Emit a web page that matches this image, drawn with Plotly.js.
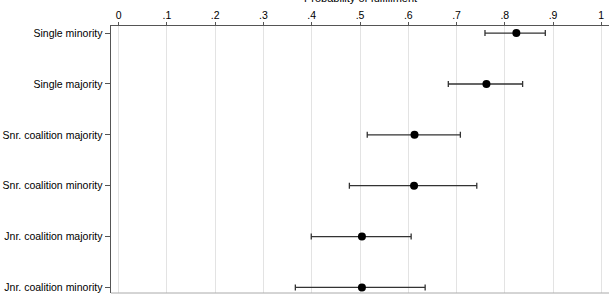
<!DOCTYPE html>
<html>
<head>
<meta charset="utf-8">
<script src="https://cdn.plot.ly/plotly-3.0.1.min.js"></script>
<style>
  html, body { margin: 0; padding: 0; background: #fff; }
  #chart { width: 609px; height: 295px; }
</style>
</head>
<body>
<div id="chart"></div>
<script>
// Predicted probability of pledge fulfillment by government status, with 95% CIs
const categories = [
  "Single minority",
  "Single majority",
  "Snr. coalition majority",
  "Snr. coalition minority",
  "Jnr. coalition majority",
  "Jnr. coalition minority"
];
const estimates = [0.824, 0.762, 0.613, 0.612, 0.504, 0.504];
const lowerCI   = [0.759, 0.683, 0.515, 0.478, 0.399, 0.366];
const upperCI   = [0.884, 0.837, 0.708, 0.742, 0.606, 0.635];
const xTickVals = [0, 0.1, 0.2, 0.3, 0.4, 0.5, 0.6, 0.7, 0.8, 0.9, 1];
const xTickText = ["0", ".1", ".2", ".3", ".4", ".5", ".6", ".7", ".8", ".9", "1"];
const xTitle = "Probability of fulfillment";

const trace = {
  type: "scatter",
  mode: "markers",
  x: estimates,
  y: categories,
  marker: { color: "#000", size: 8 },
  error_x: {
    type: "data",
    symmetric: false,
    array: estimates.map((e, i) => upperCI[i] - e),
    arrayminus: estimates.map((e, i) => e - lowerCI[i]),
    color: "#333",
    thickness: 1.3,
    width: 3
  },
  hoverinfo: "x+y"
};

const font = { family: "Liberation Sans, Arial, Helvetica, sans-serif", size: 10.5, color: "#000" };

const layout = {
  width: 609,
  height: 295,
  margin: { l: 110.5, r: 0, t: 26, b: 2 },
  paper_bgcolor: "#fff",
  plot_bgcolor: "#fff",
  font: font,
  showlegend: false,
  xaxis: {
    side: "top",
    range: [-0.016, 1.016],
    tickvals: xTickVals,
    ticktext: xTickText,
    showgrid: true,
    gridcolor: "#e3e3e3",
    gridwidth: 1,
    zeroline: false,
    showline: true,
    linecolor: "#555",
    linewidth: 1.5,
    ticks: "outside",
    ticklen: 3,
    tickcolor: "#555",
    ticklabelstandoff: -2,
    tickfont: { size: 10.5 }
  },
  yaxis: {
    type: "category",
    categoryorder: "array",
    categoryarray: categories,
    range: [5.11, -0.14],
    showgrid: false,
    zeroline: false,
    showline: true,
    linecolor: "#555",
    linewidth: 1.5,
    ticks: "outside",
    ticklen: 5,
    tickcolor: "#555",
    tickfont: { size: 10.5 }
  },
  annotations: [{
    // axis title sits above the top tick labels
    text: xTitle,
    xref: "x", yref: "paper",
    x: 0.5, y: 1 + 21 / 267,
    xanchor: "center", yanchor: "bottom",
    showarrow: false,
    borderpad: 0,
    font: { size: 11 }
  }],
  shapes: [{
    type: "line", xref: "paper", yref: "paper",
    x0: 0, x1: 1, y0: 0, y1: 0,
    line: { color: "#aaa", width: 1 }
  }]
};

Plotly.newPlot("chart", [trace], layout, { displayModeBar: false, staticPlot: true });
</script>
</body>
</html>
